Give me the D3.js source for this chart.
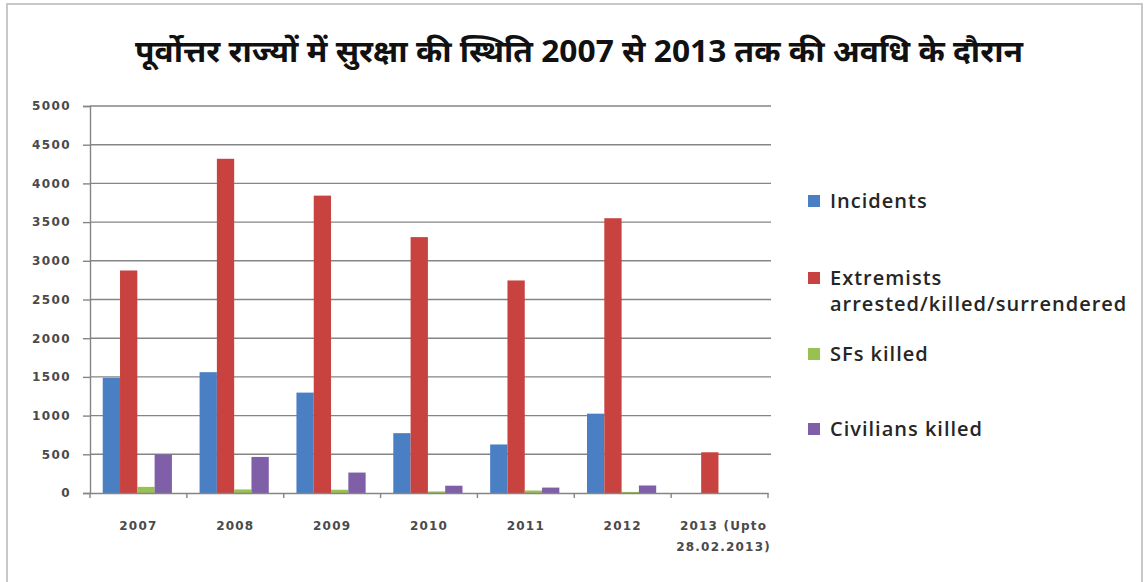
<!DOCTYPE html>
<html>
<head>
<meta charset="utf-8">
<script src="https://cdn.jsdelivr.net/npm/d3@7"></script>
<style>
  html, body { margin: 0; padding: 0; background: #fff; }
  svg { display: block; }
</style>
</head>
<body>
<svg id="chart" width="1145" height="582"></svg>
<script>
// Security situation in the North-Eastern states, 2007 – 2013
const years = ["2007", "2008", "2009", "2010", "2011", "2012", "2013 (Upto|28.02.2013)"];
const incidents  = [1489, 1561, 1297, 773, 627, 1025, 0];
const extremists = [2875, 4318, 3842, 3306, 2746, 3550, 526];
const sfsKilled  = [79, 46, 42, 20, 32, 14, 0];
const civilians  = [498, 466, 264, 94, 70, 97, 0];
const seriesNames = ["Incidents", "Extremists|arrested/killed/surrendered", "SFs killed", "Civilians killed"];
const seriesColors = ["#4a7fc4", "#c8423f", "#98c152", "#7f5fa8"];
const yTicks = [0, 500, 1000, 1500, 2000, 2500, 3000, 3500, 4000, 4500, 5000];
const titleText = "पूर्वोत्तर राज्यों में सुरक्षा की स्थिति 2007 से 2013 तक की अवधि के दौरान";

const series = [incidents, extremists, sfsKilled, civilians];
const svg = d3.select("#chart");

// outer frame
svg.append("rect")
  .attr("x", 7).attr("y", 4).attr("width", 1135).attr("height", 590)
  .attr("fill", "#fff").attr("stroke", "#c8c8c8").attr("stroke-width", 2);

// title
svg.append("text")
  .attr("x", 579).attr("y", 62)
  .attr("text-anchor", "middle")
  .attr("font-family", "'Noto Sans', 'DejaVu Sans', sans-serif")
  .attr("font-weight", "bold")
  .attr("font-size", 31)
  .attr("fill", "#111")
  .attr("textLength", 888)
  .attr("lengthAdjust", "spacingAndGlyphs")
  .text(titleText);

const plot = { left: 90, right: 768, top: 106, bottom: 493 };

const x = d3.scaleBand().domain(years).range([plot.left, plot.right]).paddingInner(0).paddingOuter(0);
const y = d3.scaleLinear().domain([0, 5000]).range([plot.bottom, plot.top]);

// gridlines
svg.append("g")
  .selectAll("line")
  .data(yTicks.filter(t => t > 0))
  .join("line")
  .attr("x1", plot.left).attr("x2", plot.right + 3)
  .attr("y1", d => y(d)).attr("y2", d => y(d))
  .attr("stroke", "#858585").attr("stroke-width", 1.4);

// y axis
const yAxis = svg.append("g")
  .attr("transform", `translate(${plot.left},0)`)
  .call(d3.axisLeft(y).tickValues(yTicks).tickSize(7).tickPadding(12).tickFormat(d3.format("d")));
yAxis.select(".domain").attr("stroke", "#858585").attr("stroke-width", 1.4);
yAxis.selectAll(".tick line").attr("stroke", "#858585").attr("stroke-width", 1.4);
yAxis.selectAll(".tick text")
  .attr("font-family", "'DejaVu Sans', sans-serif")
  .attr("font-weight", "bold")
  .attr("font-size", 12)
  .attr("letter-spacing", 1.4)
  .attr("fill", "#4a4a4a");

// bars
const inner = d3.scaleBand().domain(d3.range(series.length))
  .range([0, x.bandwidth()]).paddingInner(0).paddingOuter(0.8).align(0.46);
const barW = inner.bandwidth();

series.forEach((vals, si) => {
  svg.append("g")
    .selectAll("rect")
    .data(vals.map((v, i) => ({ cat: years[i], v })))
    .join("rect")
    .attr("x", d => x(d.cat) + inner(si))
    .attr("y", d => y(d.v))
    .attr("width", barW)
    .attr("height", d => plot.bottom - y(d.v))
    .attr("fill", seriesColors[si]);
});

// x axis
const xAxis = svg.append("g")
  .attr("transform", `translate(0,${plot.bottom})`)
  .call(d3.axisBottom(x).tickSize(0).tickFormat(""));
xAxis.select(".domain").attr("stroke", "#858585").attr("stroke-width", 1.4);
// category separators
svg.append("g")
  .selectAll("line")
  .data(years.map(d => x(d)).concat([plot.right]))
  .join("line")
  .attr("x1", d => d).attr("x2", d => d)
  .attr("y1", plot.bottom).attr("y2", plot.bottom + 5)
  .attr("stroke", "#858585").attr("stroke-width", 1.4);

// category labels
const catLabels = svg.append("g")
  .selectAll("text")
  .data(years)
  .join("text")
  .attr("x", d => x(d) + x.bandwidth() / 2)
  .attr("y", 530)
  .attr("text-anchor", "middle")
  .attr("font-family", "'DejaVu Sans', sans-serif")
  .attr("font-weight", "bold")
  .attr("font-size", 12)
  .attr("letter-spacing", 1.2)
  .attr("fill", "#4a4a4a");
catLabels.each(function (d) {
  const parts = d.split("|");
  d3.select(this).selectAll("tspan")
    .data(parts)
    .join("tspan")
    .attr("x", x(d) + x.bandwidth() / 2 + (parts.length > 1 ? 4 : 0))
    .attr("dy", (p, i) => i === 0 ? 0 : 21)
    .text(p => p);
});

// legend
const legendRows = [208, 285, 361, 436];
const legend = svg.append("g");
seriesNames.forEach((name, i) => {
  const by = legendRows[i];
  legend.append("rect")
    .attr("x", 808).attr("y", by - 13).attr("width", 12).attr("height", 12)
    .attr("fill", seriesColors[i]);
  const t = legend.append("text")
    .attr("x", 830).attr("y", by)
    .attr("font-family", "'Open Sans', 'Lato', sans-serif")
    .attr("font-weight", 600)
    .attr("font-size", 20)
    .attr("letter-spacing", 1.0)
    .attr("fill", "#262626");
  name.split("|").forEach((p, j) => {
    t.append("tspan").attr("x", 830).attr("dy", j === 0 ? 0 : 26).text(p);
  });
});
</script>
</body>
</html>
